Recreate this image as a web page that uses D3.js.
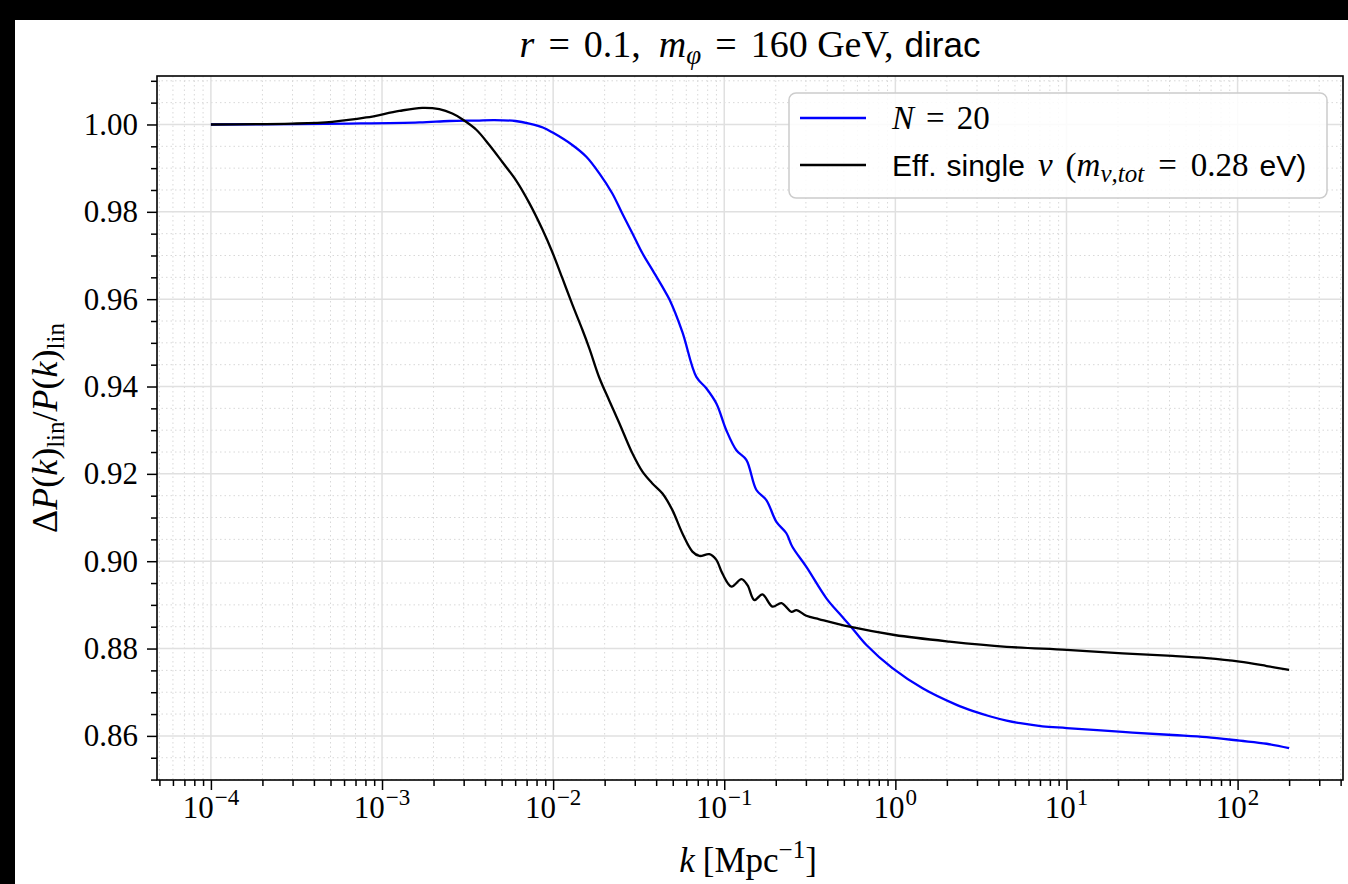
<!DOCTYPE html>
<html>
<head>
<meta charset="utf-8">
<script src="https://cdn.jsdelivr.net/npm/d3@7"></script>
<style>
  html, body { margin: 0; padding: 0; background: #fff; }
  svg { display: block; }
</style>
</head>
<body>
<svg id="chart" width="1348" height="884"></svg>
<script>
// ---- Data ----
const logK_N20 = [-4.0, -3.5, -3.191, -2.782, -2.607, -2.45, -2.344, -2.22, -2.139, -2.06, -2.005, -1.888, -1.806, -1.730, -1.654, -1.596, -1.537, -1.478, -1.420, -1.361, -1.320, -1.245, -1.163, -1.105, -1.046, -0.988, -0.929, -0.871, -0.812, -0.754, -0.695, -0.637, -0.602, -0.520, -0.403, -0.327, -0.257, -0.169, -0.017, 0.159, 0.358, 0.46, 0.551, 0.65, 0.730, 0.86, 1.001, 1.328, 1.620, 1.819, 2.012, 2.170, 2.301];
const ratio_N20 = [1.0000, 1.0001, 1.0002, 1.00046, 1.0008, 1.0009, 1.0010, 1.0008, 1.0002, 0.9993, 0.9982, 0.9953, 0.9926, 0.9888, 0.9842, 0.9796, 0.9751, 0.9705, 0.9667, 0.9628, 0.9599, 0.9525, 0.9422, 0.9396, 0.9361, 0.9300, 0.9254, 0.9232, 0.9163, 0.9140, 0.9090, 0.9064, 0.9033, 0.8987, 0.8915, 0.8880, 0.8849, 0.8808, 0.8755, 0.8709, 0.8671, 0.8656, 0.8645, 0.8635, 0.8629, 0.8622, 0.8618, 0.8609, 0.8602, 0.8597, 0.8589, 0.8582, 0.8572];

const logK_single = [-4.0, -3.525, -3.291, -3.092, -2.899, -2.765, -2.665, -2.589, -2.531, -2.449, -2.373, -2.297, -2.215, -2.139, -2.063, -2.005, -1.946, -1.888, -1.829, -1.788, -1.730, -1.671, -1.613, -1.537, -1.478, -1.420, -1.361, -1.303, -1.245, -1.186, -1.145, -1.087, -1.046, -1.011, -0.958, -0.899, -0.864, -0.824, -0.777, -0.718, -0.666, -0.607, -0.578, -0.520, -0.444, -0.268, -0.005, 0.316, 0.650, 1.001, 1.328, 1.620, 1.819, 2.012, 2.170, 2.301];
const ratio_single = [1.0000, 1.0002, 1.0006, 1.0016, 1.0031, 1.0038, 1.0035, 1.0025, 1.0012, 0.9988, 0.9953, 0.9914, 0.9871, 0.9820, 0.9760, 0.9708, 0.9648, 0.9588, 0.9530, 0.9487, 0.9420, 0.9367, 0.9316, 0.9247, 0.9205, 0.9178, 0.9155, 0.9117, 0.9064, 0.9022, 0.9012, 0.9016, 0.9003, 0.8972, 0.8942, 0.8959, 0.8945, 0.8911, 0.8924, 0.8896, 0.8904, 0.8884, 0.8888, 0.8875, 0.8867, 0.8850, 0.8831, 0.8816, 0.8804, 0.8797, 0.8789, 0.8783, 0.8778, 0.8770, 0.8760, 0.8751];

const yTicks = [0.86, 0.88, 0.90, 0.92, 0.94, 0.96, 0.98, 1.00];
const xTickExps = [-4, -3, -2, -1, 0, 1, 2];
const seriesNames = ["N = 20", "Eff. single ν (m_ν,tot = 0.28 eV)"];
const seriesColors = ["#0000ff", "#000000"];

// ---- Layout ----
const W = 1348, H = 884;
const plot = { left: 157, right: 1343, top: 76, bottom: 780 };
const svg = d3.select("#chart");

// screenshot black edges
svg.append("rect").attr("x", 0).attr("y", 0).attr("width", W).attr("height", H).attr("fill", "#fff");
svg.append("rect").attr("x", 0).attr("y", 0).attr("width", W).attr("height", 20).attr("fill", "#000");
svg.append("rect").attr("x", 0).attr("y", 0).attr("width", 15).attr("height", H).attr("fill", "#000");

const x = d3.scaleLog().domain([Math.pow(10, -4.315), Math.pow(10, 2.616)]).range([plot.left, plot.right]);
const y = d3.scaleLinear().domain([0.8499, 1.0111]).range([plot.bottom, plot.top]);

const serif = "'Liberation Serif', 'DejaVu Serif', serif";
const sans = "'Liberation Sans', 'DejaVu Sans', sans-serif";

// minor ticks
const xMinor = [];
for (let e = -5; e <= 2; e++) for (let m = 2; m <= 9; m++) {
  const v = m * Math.pow(10, e);
  if (v >= x.domain()[0] && v <= x.domain()[1]) xMinor.push(v);
}
const xMajor = xTickExps.map(e => Math.pow(10, e));
const yMinor = d3.range(0.85, 1.0111, 0.005).map(v => +v.toFixed(3)).filter(v => !yTicks.some(t => Math.abs(t - v) < 1e-6) && v >= y.domain()[0]);

const grid = svg.append("g");
grid.selectAll(".xmg").data(xMinor).enter().append("line")
  .attr("x1", d => x(d)).attr("x2", d => x(d)).attr("y1", plot.top).attr("y2", plot.bottom)
  .attr("stroke", "#d8d8d8").attr("stroke-width", 1).attr("stroke-dasharray", "1.5,3");
grid.selectAll(".ymg").data(yMinor).enter().append("line")
  .attr("x1", plot.left).attr("x2", plot.right).attr("y1", d => y(d)).attr("y2", d => y(d))
  .attr("stroke", "#d8d8d8").attr("stroke-width", 1).attr("stroke-dasharray", "1.5,3");
grid.selectAll(".xg").data(xMajor).enter().append("line")
  .attr("x1", d => x(d)).attr("x2", d => x(d)).attr("y1", plot.top).attr("y2", plot.bottom)
  .attr("stroke", "#e0e0e0").attr("stroke-width", 1.5);
grid.selectAll(".yg").data(yTicks).enter().append("line")
  .attr("x1", plot.left).attr("x2", plot.right).attr("y1", d => y(d)).attr("y2", d => y(d))
  .attr("stroke", "#e0e0e0").attr("stroke-width", 1.5);

// lines
const line = d3.line().x(d => x(d[0])).y(d => y(d[1])).curve(d3.curveCatmullRom.alpha(0.5));
const dBlue = logK_N20.map((l, i) => [Math.pow(10, l), ratio_N20[i]]);
const dBlack = logK_single.map((l, i) => [Math.pow(10, l), ratio_single[i]]);
svg.append("path").datum(dBlue).attr("d", line).attr("fill", "none").attr("stroke", seriesColors[0]).attr("stroke-width", 2.3);
svg.append("path").datum(dBlack).attr("d", line).attr("fill", "none").attr("stroke", seriesColors[1]).attr("stroke-width", 2.3);

// axes
const xAxisB = d3.axisBottom(x).tickValues(xMajor).tickSize(10).tickFormat("");
const xAxisBm = d3.axisBottom(x).tickValues(xMinor).tickSize(6).tickFormat("");
const yAxisL = d3.axisLeft(y).tickValues(yTicks).tickSize(10).tickFormat("");
const yAxisLm = d3.axisLeft(y).tickValues(yMinor).tickSize(6).tickFormat("");
function styleAxis(g) {
  g.select(".domain").remove();
  g.selectAll(".tick line").attr("stroke", "#000").attr("stroke-width", 1.5);
}
svg.append("g").attr("transform", `translate(0,${plot.bottom})`).call(xAxisB).call(styleAxis);
svg.append("g").attr("transform", `translate(0,${plot.bottom})`).call(xAxisBm).call(styleAxis);
svg.append("g").attr("transform", `translate(${plot.left},0)`).call(yAxisL).call(styleAxis);
svg.append("g").attr("transform", `translate(${plot.left},0)`).call(yAxisLm).call(styleAxis);

// frame
svg.append("rect").attr("x", plot.left).attr("y", plot.top)
  .attr("width", plot.right - plot.left).attr("height", plot.bottom - plot.top)
  .attr("fill", "none").attr("stroke", "#000").attr("stroke-width", 1.6);

// y tick labels
svg.selectAll(".ytl").data(yTicks).enter().append("text")
  .attr("x", plot.left - 19).attr("y", d => y(d) + 10.5)
  .attr("text-anchor", "end").attr("font-family", serif).attr("font-size", 31)
  .text(d => d.toFixed(2));

// x tick labels 10^e
const xtl = svg.selectAll(".xtl").data(xTickExps).enter().append("text")
  .attr("x", d => x(Math.pow(10, d))).attr("y", 818)
  .attr("text-anchor", "middle").attr("font-family", serif).attr("font-size", 31);
xtl.append("tspan").text("10");
xtl.append("tspan").attr("dy", -13).attr("dx", 1).attr("font-size", 23).text(d => d < 0 ? "\u2212" + (-d) : String(d));

// title
const title = svg.append("text").attr("x", (plot.left + plot.right) / 2).attr("y", 57)
  .attr("text-anchor", "middle").attr("font-family", serif).attr("font-size", 38);
title.append("tspan").attr("font-style", "italic").text("r");
title.append("tspan").attr("dx", 14).text("=");
title.append("tspan").attr("dx", 14).text("0.1,");
title.append("tspan").attr("dx", 18).attr("font-style", "italic").text("m");
title.append("tspan").attr("font-style", "italic").attr("font-size", 27).attr("dy", 7).text("φ");
title.append("tspan").attr("dy", -7).attr("dx", 14).text("=");
title.append("tspan").attr("dx", 14).text("160 GeV,");
title.append("tspan").attr("dx", 11).attr("font-family", sans).attr("font-size", 35).text("dirac");

// x label
const xl = svg.append("text").attr("x", 748).attr("y", 872)
  .attr("text-anchor", "middle").attr("font-family", serif).attr("font-size", 35);
xl.append("tspan").attr("font-style", "italic").text("k");
xl.append("tspan").attr("dx", 8).text("[Mpc");
xl.append("tspan").attr("dy", -14).attr("font-size", 25).text("\u22121");
xl.append("tspan").attr("dy", 14).text("]");

// y label
const yl = svg.append("text").attr("transform", `translate(57,${(plot.top + plot.bottom) / 2}) rotate(-90)`)
  .attr("text-anchor", "middle").attr("font-family", serif).attr("font-size", 36);
yl.append("tspan").text("Δ");
yl.append("tspan").attr("font-style", "italic").text("P");
yl.append("tspan").text("(");
yl.append("tspan").attr("font-style", "italic").text("k");
yl.append("tspan").text(")");
yl.append("tspan").attr("font-size", 25).attr("dy", 7).text("lin");
yl.append("tspan").attr("dy", -7).text("/");
yl.append("tspan").attr("font-style", "italic").text("P");
yl.append("tspan").text("(");
yl.append("tspan").attr("font-style", "italic").text("k");
yl.append("tspan").text(")");
yl.append("tspan").attr("font-size", 25).attr("dy", 7).text("lin");

// legend
const lg = svg.append("g");
lg.append("rect").attr("x", 789).attr("y", 93).attr("width", 538).attr("height", 105).attr("rx", 7)
  .attr("fill", "#fff").attr("fill-opacity", 0.85).attr("stroke", "#cccccc").attr("stroke-width", 1.5);
const legRows = [118, 165];
lg.selectAll(".ll").data(seriesColors).enter().append("line")
  .attr("x1", 800).attr("x2", 866).attr("y1", (d, i) => legRows[i]).attr("y2", (d, i) => legRows[i])
  .attr("stroke", d => d).attr("stroke-width", 2.3);
const t1 = lg.append("text").attr("x", 892).attr("y", legRows[0] + 11).attr("font-family", serif).attr("font-size", 33);
t1.append("tspan").attr("font-style", "italic").text("N");
t1.append("tspan").attr("dx", 12).text("=");
t1.append("tspan").attr("dx", 12).text("20");
const t2 = lg.append("text").attr("x", 892).attr("y", legRows[1] + 11).attr("font-family", serif).attr("font-size", 33);
t2.append("tspan").attr("font-family", sans).attr("font-size", 30).text("Eff.");
t2.append("tspan").attr("dx", 10).attr("font-family", sans).attr("font-size", 30).text("single");
t2.append("tspan").attr("dx", 13).attr("font-style", "italic").text("ν");
t2.append("tspan").attr("dx", 13).text("(");
t2.append("tspan").attr("font-style", "italic").text("m");
t2.append("tspan").attr("font-style", "italic").attr("font-size", 25).attr("dy", 6).text("ν,tot");
t2.append("tspan").attr("dy", -6).attr("dx", 14).text("=");
t2.append("tspan").attr("dx", 14).text("0.28");
t2.append("tspan").attr("dx", 11).attr("font-family", sans).attr("font-size", 30).text("eV)");
</script>
</body>
</html>
